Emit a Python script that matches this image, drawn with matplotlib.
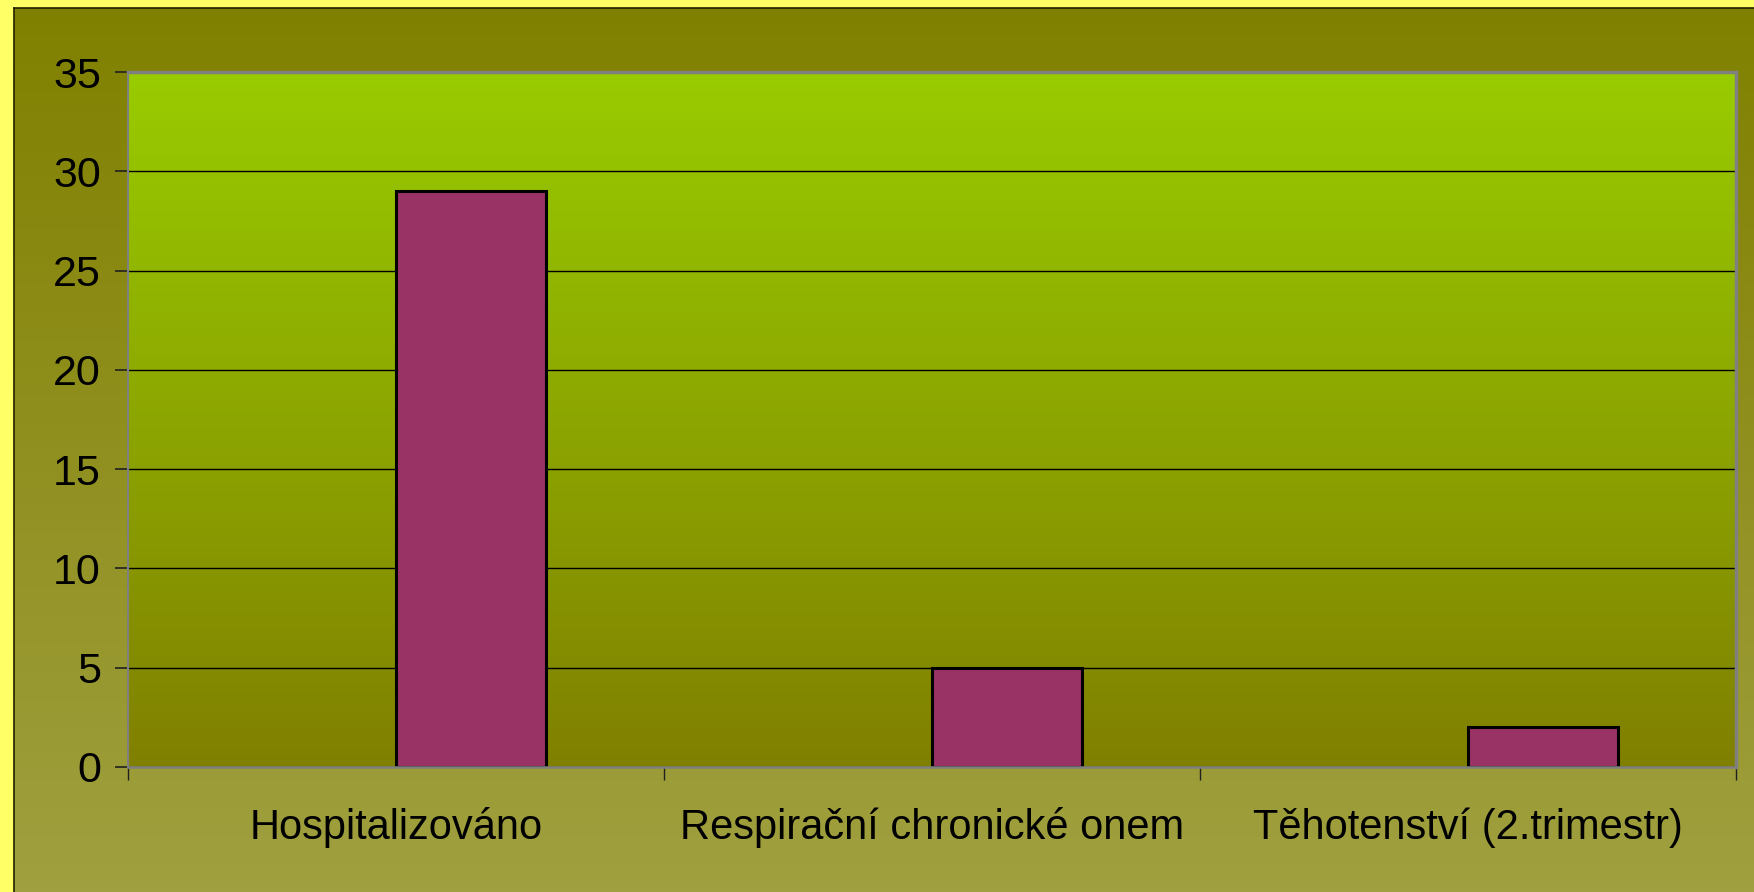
import numpy as np
import matplotlib
matplotlib.use("Agg")
import matplotlib.pyplot as plt
from matplotlib.colors import LinearSegmentedColormap

categories = ["Hospitalizováno", "Respirační chronické onem", "Těhotenství (2.trimestr)"]
values = [29, 5, 2]
yticks = [0, 5, 10, 15, 20, 25, 30, 35]

plt.rcParams["font.family"] = ["Liberation Sans", "DejaVu Sans"]

W, H = 1754, 892
fig = plt.figure(figsize=(W / 100, H / 100), dpi=100, facecolor="#ffff66")

# olive backdrop, darker at the top
bg = fig.add_axes([14 / W, 0, 1 - 14 / W, 1 - 8 / H], zorder=0)
bg_cmap = LinearSegmentedColormap.from_list("bg", ["#808000", "#a0a040"])
bg.imshow(np.linspace(0, 1, 256)[:, None], cmap=bg_cmap, aspect="auto",
          extent=(0, 1, 0, 1), origin="upper")
bg.set_xticks([]); bg.set_yticks([])
for s in bg.spines.values():
    s.set_color("#202000"); s.set_linewidth(1.2)
bg.spines["right"].set_visible(False)
bg.spines["bottom"].set_visible(False)

ax = fig.add_axes([128 / W, (H - 767) / H, (1736 - 128) / W, (767 - 72) / H], zorder=1)
ax.patch.set_alpha(0)
plot_cmap = LinearSegmentedColormap.from_list("plot", ["#99cc00", "#808000"])
ax.imshow(np.linspace(0, 1, 256)[:, None], cmap=plot_cmap, aspect="auto",
          extent=(-0.5, 2.5, 0, 35), origin="upper", zorder=0)

x = np.arange(len(categories))
ax.bar(x, values, width=0.28, align="edge", color="#993366",
       edgecolor="black", linewidth=2.2, zorder=3)

ax.set_xlim(-0.5, 2.5)
ax.set_ylim(0, 35)
ax.set_yticks(yticks)
ax.yaxis.grid(True, color="black", linewidth=1, zorder=2)
ax.set_axisbelow(False)

ax.set_xticks(x)
ax.set_xticklabels(categories, fontsize=30)
ax.set_xticks(np.arange(-0.5, len(categories)), minor=True)
ax.tick_params(axis="x", which="major", length=0, pad=29)
ax.tick_params(axis="x", which="minor", length=9.5, width=1, color="#202020")
ax.tick_params(axis="y", labelsize=31, length=9.5, width=1.2, color="#202020", pad=10)

for side, lw in (("top", 2.5), ("right", 2.5), ("left", 1.5), ("bottom", 1.8)):
    ax.spines[side].set_color("#808080")
    ax.spines[side].set_linewidth(lw)
    ax.spines[side].set_zorder(4)

fig.savefig("out.png", dpi=100, facecolor=fig.get_facecolor())
